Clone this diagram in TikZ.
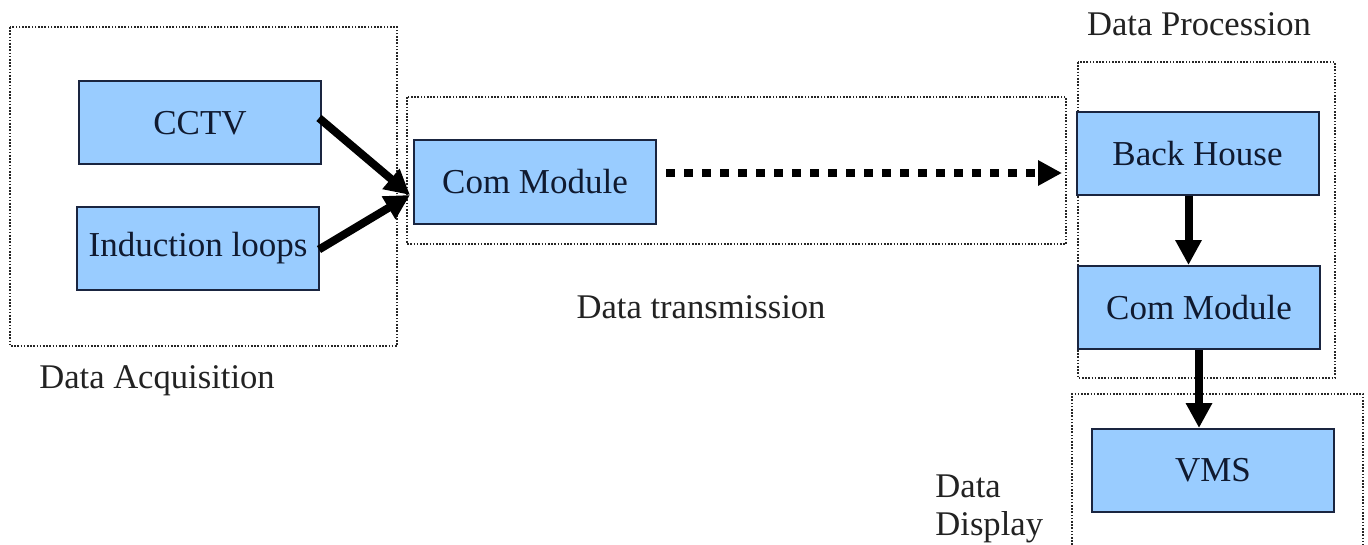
\documentclass[tikz,border=0pt]{standalone}
\usepackage{fontspec}
\setmainfont{Liberation Serif}
\usetikzlibrary{arrows.meta,calc}
\definecolor{boxfill}{HTML}{99CCFF}
\definecolor{boxline}{HTML}{1A2540}
\definecolor{boxtext}{HTML}{101A30}
\definecolor{labtext}{HTML}{222222}
\tikzset{
  blockbox/.style={draw=boxline, fill=boxfill, line width=1pt, minimum width=121pt, minimum height=41.5pt, inner sep=0pt, text=boxtext, font=\fontsize{17.5}{20}\selectfont},
  groupbox/.style={draw=black!85, line width=0.8pt, dash pattern=on 0.8pt off 0.8pt},
  grouplabel/.style={inner sep=0pt, text=labtext, font=\fontsize{17.3}{20}\selectfont},
  flow/.style={line width=4pt, -{Triangle[length=12.5pt,width=12.5pt]}},
  dotflow/.style={line width=4pt, dash pattern=on 4.5pt off 4.5pt, -{Triangle[length=12pt,width=12pt]}}
}
\begin{document}
\begin{tikzpicture}[x=0.5pt,y=-0.5pt]
\useasboundingbox[fill=white] (0,0) rectangle (1368,545);
% group frames
\draw[groupbox] (10,27) rectangle (397,346);
\draw[groupbox] (407,97) rectangle (1066,244);
\draw[groupbox] (1078,62) rectangle (1335,378);
\draw[groupbox] (1072,545) -- (1072,394) -- (1363,394) -- (1363,545);
% group labels
\node[grouplabel] (lacq) at (157,381) {Data Acquisition};
\node[grouplabel] (ltra) at (701,307) {Data transmission};
\node[grouplabel] (lpro) at (1199,24) {Data Procession};
\node[grouplabel, anchor=base west] (ldis1) at (935,497) {Data};
\node[grouplabel, anchor=base west] (ldis2) at (935,535) {Display};
% blocks
\node[blockbox] (cctv) at (200,123) {CCTV};
\node[blockbox] (loops) at (198,248.5) {Induction loops};
\node[blockbox] (cm1) at (535,182) {Com Module};
\node[blockbox] (bh) at (1197.5,154) {Back House};
\node[blockbox] (cm2) at (1199,307.5) {Com Module};
\node[blockbox] (vms) at (1213,470.5) {VMS};
% connectors
\coordinate (in1) at (410,195);
\coordinate (dtip) at (1062,173);
\draw[flow] ($(cctv.east)+(-3,-5)$) -- (in1);
\draw[flow] ($(loops.east)+(-1,1)$) -- (in1);
\draw[dotflow] ($(cm1.east |- dtip)+(9,0)$) -- (dtip);
\draw[flow] ($(bh.south)+(-9,0)$) -- ($(bh.south |- cm2.north)+(-9,0)$);
\draw[flow] (cm2.south) -- (cm2.south |- vms.north);
\end{tikzpicture}
\end{document}
